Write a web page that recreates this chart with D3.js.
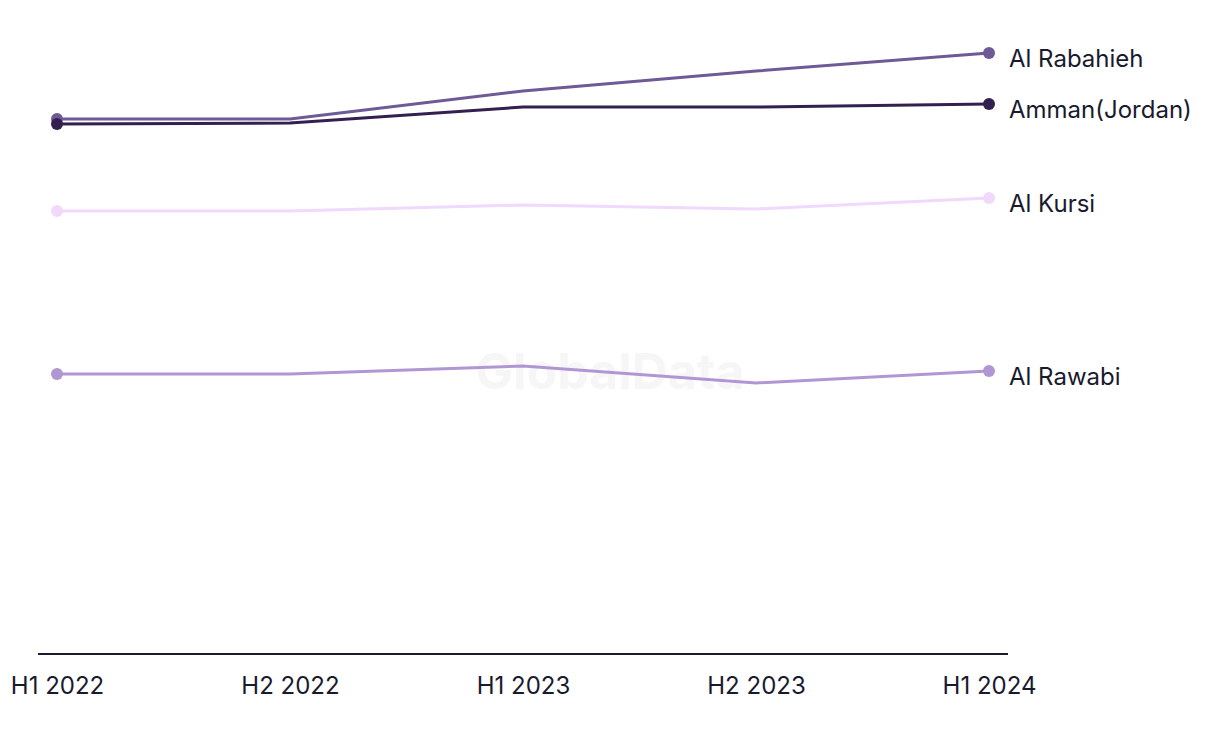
<!DOCTYPE html>
<html><head><meta charset="utf-8">
<script src="https://cdn.jsdelivr.net/npm/d3@7"></script>
<style>body{margin:0;background:#fff}svg{display:block}</style>
</head><body>
<svg id="c" width="1220" height="744"></svg>
<script>
const periods = ["H1 2022","H2 2022","H1 2023","H2 2023","H1 2024"];
const seriesNames = ["Al Rabahieh","Amman(Jordan)","Al Kursi","Al Rawabi"];
const alRabahieh = [535, 535, 563, 583, 601];
const amman = [530, 531, 547, 547, 550];
const alKursi = [443, 443, 449, 445, 456];
const alRawabi = [280, 280, 288, 271, 283];
const colors = ["#6e5a96","#33204f","#f0d9fc","#b196d4"];

const series = [alRabahieh, amman, alKursi, alRawabi].map((v,i)=>({name:seriesNames[i], values:v, color:colors[i]}));

const svg = d3.select("#c");
const x = d3.scalePoint().domain(periods).range([57, 989]);
const y = d3.scaleLinear().domain([0, 600]).range([654, 54]);
const font = "Inter, Roboto, sans-serif";

// watermark
svg.append("text").attr("x", 610).attr("y", 389).attr("text-anchor","middle")
  .attr("font-family",font).attr("font-weight","700").attr("font-size",50)
  .attr("fill","#f6f6f6").text("GlobalData");

const axis = d3.axisBottom(x).tickSize(0).tickPadding(23);
const g = svg.append("g").attr("transform","translate(0,654)").call(axis);
g.select(".domain").attr("d","M38,0H1008").attr("stroke","#1a1a2e").attr("stroke-width",2);
g.selectAll("text").attr("font-family",font).attr("font-size",24).attr("fill","#1a1a2e");

const line = d3.line().x((d,i)=>x(periods[i])).y(d=>y(d));
const order = [2,3,0,1];
order.forEach(k=>{
  const s = series[k];
  svg.append("path").attr("d", line(s.values)).attr("fill","none").attr("stroke", s.color).attr("stroke-width",3);
  [0, s.values.length-1].forEach(i=>{
    svg.append("circle").attr("cx", x(periods[i])).attr("cy", y(s.values[i])).attr("r",6).attr("fill", s.color);
  });
  const last = s.values.length-1;
  svg.append("text").attr("x", 1009).attr("y", y(s.values[last]) + 6).attr("dy","0.35em")
    .attr("font-family",font).attr("font-size",24).attr("fill","#1a1a2e").text(s.name);
});
</script>
</body></html>
